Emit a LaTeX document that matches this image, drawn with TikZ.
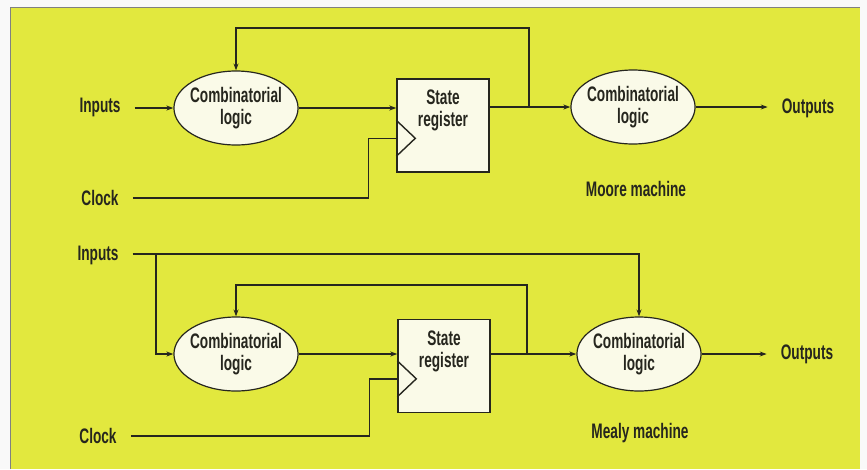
\documentclass[tikz,border=0pt]{standalone}
\usepackage{fontspec}
\setmainfont{Liberation Sans}[FakeStretch=0.65]
\usetikzlibrary{shapes.geometric,arrows.meta,calc}
\definecolor{paper}{RGB}{226,232,62}
\definecolor{ink}{RGB}{38,38,30}
\definecolor{cream}{RGB}{250,250,232}
\tikzset{
  txt/.style={font=\bfseries\fontsize{21}{22}\selectfont, text=ink, align=center},
  sig/.style={txt, inner xsep=14pt},
  logic/.style={ellipse, draw=ink, line width=1.2pt, fill=cream,
    minimum width=121pt, minimum height=74pt, inner xsep=-2pt, inner ysep=0pt, txt},
  regbox/.style={draw=ink, line width=1.4pt, fill=cream,
    minimum width=92pt, minimum height=93pt,
    label={[txt, anchor=north, yshift=-8pt]north:State\\register}},
  wire/.style={ink, line width=1.4pt},
  flow/.style={wire, -{Stealth[length=7pt,width=5pt]}},
}
\begin{document}
\begin{tikzpicture}[x=1pt, y=-1pt]
  \useasboundingbox (0,0) rectangle (867,469);
  \fill[white!95!gray] (0,0) rectangle (867,469);
  \fill[paper] (10,7) rectangle (860,469);
  \draw[gray, line width=0.8pt] (10,469) -- (10,7) -- (860,7);

  % Moore machine
  \node[sig] (in1) at (100,107) {Inputs};
  \node[logic] (cl1) at (236,108) {Combinatorial\\logic};
  \node[regbox] (reg1) at (443,125.5) {};
  \node[logic] (cl2) at (633,107) {Combinatorial\\logic};
  \node[sig] (out1) at (808,108) {Outputs};
  \node[txt] (moore) at (636,189) {Moore machine};
  \node[sig] (ck1) at (100,198) {Clock};
  \coordinate (clk1) at ($(reg1.north west)+(0,60)$);
  \coordinate (fb1) at (529,107);
  \coordinate (top1) at (529,28);

  \draw[wire] ($(reg1.north west)+(0,42)$) -- ($(reg1.north west)+(19,60)$)
    -- ($(reg1.north west)+(0,78)$);
  \draw[flow] (in1.east |- cl1) -- (cl1.west);
  \draw[flow] (cl1.east) -- (cl1 -| reg1.west);
  \draw[flow] (reg1.east |- cl2) -- (cl2.west);
  \draw[flow] (fb1) -- (top1) -| (cl1.north);
  \draw[flow] (cl2.east) -- (out1.west |- cl2);
  \draw[wire] (ck1.east) -| ($(clk1)+(-28,0)$) -- (clk1);

  % Mealy machine
  \node[sig] (in2) at (98,255) {Inputs};
  \node[logic] (cl3) at (236,354) {Combinatorial\\logic};
  \node[regbox] (reg2) at (444,366) {};
  \node[logic] (cl4) at (639,354) {Combinatorial\\logic};
  \node[sig] (out2) at (807,354) {Outputs};
  \node[txt] (mealy) at (640,433) {Mealy machine};
  \node[sig] (ck2) at (98,436) {Clock};
  \coordinate (clk2) at ($(reg2.north west)+(0,60)$);
  \coordinate (br2) at (156,254);
  \coordinate (fb2) at (527,353);
  \coordinate (top2) at (527,285);

  \draw[wire] ($(reg2.north west)+(0,42)$) -- ($(reg2.north west)+(19,60)$)
    -- ($(reg2.north west)+(0,78)$);
  \draw[flow] (in2.east |- br2) -| (cl4.north);
  \draw[flow] (br2) |- (cl3.west);
  \draw[flow] (cl3.east) -- (cl3 -| reg2.west);
  \draw[flow] (reg2.east |- cl4) -- (cl4.west);
  \draw[flow] (fb2) -- (top2) -| (cl3.north);
  \draw[flow] (cl4.east) -- (out2.west |- cl4);
  \draw[wire] (ck2.east) -| ($(clk2)+(-28,0)$) -- (clk2);
\end{tikzpicture}
\end{document}
